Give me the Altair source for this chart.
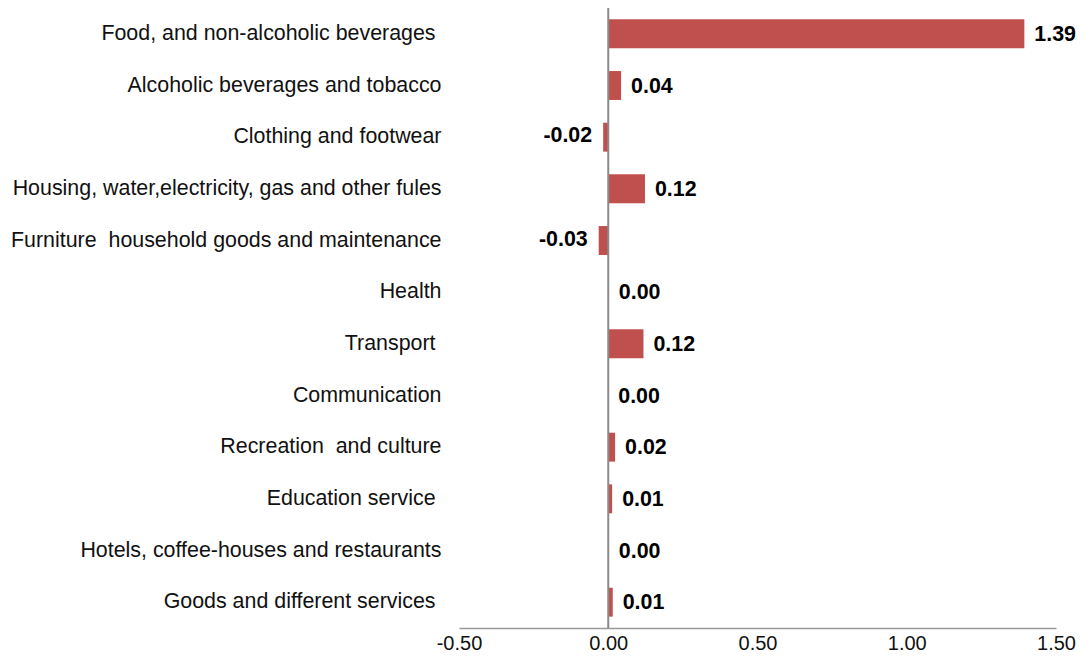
import altair as alt
import pandas as pd

categories = [
    "Food, and non-alcoholic beverages\u00a0\u200d",
    "Alcoholic beverages and tobacco",
    "Clothing and footwear",
    "Housing, water,electricity, gas and other fules",
    "Furniture\u00a0 household goods and maintenance",
    "Health",
    "Transport\u00a0\u200d",
    "Communication",
    "Recreation\u00a0 and culture",
    "Education service\u00a0\u200d",
    "Hotels, coffee-houses and restaurants",
    "Goods and different services\u00a0\u200d",
]
values = [1.394, 0.043, -0.017, 0.123, -0.032, 0.002, 0.118, 0.0, 0.023, 0.013, 0.002, 0.015]
labels = ["1.39", "0.04", "-0.02", "0.12", "-0.03", "0.00", "0.12", "0.00", "0.02", "0.01", "0.00", "0.01"]
x_ticks = [-0.5, 0.0, 0.5, 1.0, 1.5]

df = pd.DataFrame({"category": categories, "value": values, "label": labels})

FONT = "Liberation Sans"
FS = 21.4

x_scale = alt.Scale(domain=[-0.5, 1.5], nice=False, zero=False)
y_scale = alt.Scale(domain=categories, paddingInner=0.44, paddingOuter=0.22)

base = alt.Chart(df)

bars = base.mark_bar(color="#C0504D").encode(
    x=alt.X("value:Q", scale=x_scale,
            axis=alt.Axis(values=x_ticks, format=".2f", title=None, grid=False,
                          labelExpr="replace(datum.label, '\u2212', '-')",
                          labelFlush=False, labelOverlap=False,
                          ticks=False, domainColor="#999999", domainWidth=1.5,
                          labelFont=FONT, labelFontSize=20, labelColor="#111111",
                          labelPadding=5)),
    x2=alt.datum(0),
    y=alt.Y("category:N", sort=categories, scale=y_scale,
            axis=alt.Axis(title=None, domain=False, ticks=False, labelFont=FONT,
                          labelFontSize=FS, labelColor="#111111", labelPadding=18,
                          labelLimit=600)),
)

pos_text = base.transform_filter(alt.datum.value >= 0).mark_text(
    align="left", baseline="middle", dx=10, dy=1, font=FONT, fontSize=FS,
    fontWeight="bold", color="#000000"
).encode(
    x=alt.X("value:Q", scale=x_scale),
    y=alt.Y("category:N", sort=categories, scale=y_scale),
    text="label:N",
)

neg_text = base.transform_filter(alt.datum.value < 0).mark_text(
    align="right", baseline="middle", dx=-11, dy=-1, font=FONT, fontSize=FS,
    fontWeight="bold", color="#000000"
).encode(
    x=alt.X("value:Q", scale=x_scale),
    y=alt.Y("category:N", sort=categories, scale=y_scale),
    text="label:N",
)

zero_rule = alt.Chart(pd.DataFrame({"z": [0.0]})).mark_rule(
    color="#8a8a8a", strokeWidth=2
).encode(x=alt.X("z:Q", scale=x_scale))

chart = alt.layer(bars, zero_rule, pos_text, neg_text).properties(
    width=597, height=620,
    autosize=alt.AutoSizeParams(type="none"),
    padding={"left": 451, "top": 0, "right": 20, "bottom": 25},
).configure_view(strokeWidth=0)

chart.save("out.html", embed_options={"renderer": "svg", "actions": False})
